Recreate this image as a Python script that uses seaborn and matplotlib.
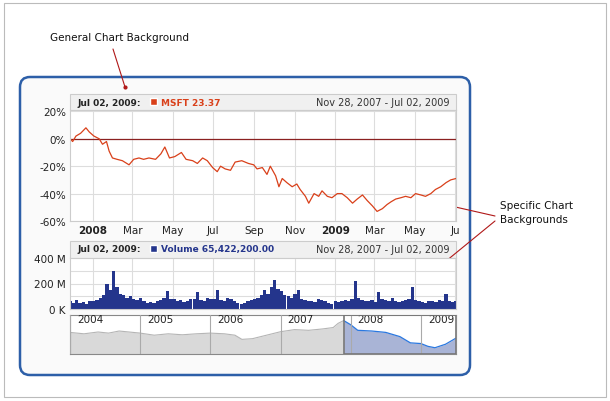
import numpy as np, pandas as pd, matplotlib
matplotlib.use("Agg")
import matplotlib.pyplot as plt, matplotlib.dates as mdates
from matplotlib.patches import FancyBboxPatch, Rectangle
import seaborn as sns
sns.set_style("white")
plt.rcParams['font.family'] = ['DejaVu Sans']

# ---- data ----
start_date = "2007-11-28"
pct_day = [0,4,9,16,24,29,36,44,49,55,59,64,71,79,89,96,104,111,119,129,137,143,150,158,168,175,185,192,200,207,215,222,227,234,242,249,259,269,277,282,290,297,302,310,315,320,327,335,342,347,355,360,368,375,380,388,395,403,410,418,426,433,441,448,456,463,471,478,484,491,499,506,514,521,529,536,544,551,559,567,574,582]
pct_val = [0,-2,2,4,8,5,2,0,-4,-2,-9,-14,-15,-16,-19,-15,-14,-15,-14,-15,-11,-6,-14,-13,-10,-15,-16,-18,-14,-16,-21,-24,-20,-22,-23,-17,-16,-18,-19,-22,-21,-26,-20,-27,-35,-29,-32,-35,-33,-37,-42,-47,-40,-42,-38,-42,-43,-40,-40,-43,-47,-44,-41,-45,-49,-53,-51,-48,-46,-44,-43,-42,-43,-40,-41,-42,-40,-37,-35,-32,-30,-29]
pct_val = pct_val[:len(pct_day)]
volume_m = [60,45,70,50,55,40,65,60,70,90,110,200,150,300,170,120,110,90,100,80,70,85,60,50,55,45,60,70,90,140,80,75,60,70,55,65,80,75,130,70,60,90,80,75,150,70,65,90,80,60,45,40,50,60,70,80,90,110,150,120,170,230,160,140,110,100,90,120,150,80,70,60,65,55,80,70,60,50,40,60,55,60,70,65,80,220,90,70,60,65,70,55,130,80,70,60,90,65,55,60,70,75,170,70,60,55,50,60,65,55,70,60,120,65,55,60]
scroll_year = [2004.0,2004.2,2004.4,2004.55,2004.7,2004.9,2005.0,2005.2,2005.4,2005.6,2005.8,2006.0,2006.2,2006.35,2006.45,2006.6,2006.8,2007.0,2007.2,2007.4,2007.6,2007.75,2007.82,2007.9,2008.0,2008.1,2008.3,2008.5,2008.7,2008.85,2009.0,2009.1,2009.2,2009.35,2009.5]
scroll_price = [27.5,26.5,27.8,27.0,28.5,27.5,27.0,25.5,26.5,25.8,26.5,27.0,26.5,25.5,22.5,23.0,25.5,28.0,29.5,29.0,30.0,31.0,34.0,36.0,33.0,29.0,28.5,27.5,24.5,20.0,19.5,17.5,16.5,19.0,23.4]
y_ticks = [20,0,-20,-40,-60]
x_tick_dates = ["2008-01-01","2008-03-01","2008-05-01","2008-07-01","2008-09-01","2008-11-01","2009-01-01","2009-03-01","2009-05-01","2009-07-01"]
x_tick_labels = ["2008","Mar","May","Jul","Sep","Nov","2009","Mar","May","Ju"]
years = [2004,2005,2006,2007,2008,2009]

W,H = 610,402
fig = plt.figure(figsize=(W/100,H/100), dpi=100)
def px(x0,y0,x1,y1):
    return [x0/W, 1-y1/H, (x1-x0)/W, (y1-y0)/H]

bg = fig.add_axes([0,0,1,1]); bg.set_xlim(0,W); bg.set_ylim(H,0); bg.axis('off')
bg.add_patch(Rectangle((4,4),602,394,fill=False,ec='#bbbbbb',lw=0.8))
bg.add_patch(FancyBboxPatch((20,78),450,298,boxstyle="round,pad=0,rounding_size=10",fc='#fafafa',ec='#2d5fa8',lw=1.8))
bg.add_patch(Rectangle((70,95),386,16,fc='#f0f0f0',ec='#cccccc',lw=0.8))
bg.add_patch(Rectangle((70,242),386,17,fc='#f0f0f0',ec='#cccccc',lw=0.8))
bg.text(50,38,"General Chart Background",fontsize=7.5,va='center',color='#111')
bg.plot([113,125],[50,88],color='#b01818',lw=0.8); bg.plot([125],[88],'o',color='#b01818',ms=2)
bg.text(500,213,"Specific Chart\nBackgrounds",fontsize=7.5,va='center',ha='left',linespacing=1.4,color='#111')
bg.plot([495,451],[217,207],color='#b01818',lw=0.8); bg.plot([451],[207],'o',color='#b01818',ms=2)
bg.plot([495,440],[222,267],color='#b01818',lw=0.8); bg.plot([440],[267],'o',color='#b01818',ms=2)
# headers
bg.text(77,103,"Jul 02, 2009:",fontsize=6.5,fontweight='bold',va='center',color='#222')
bg.add_patch(Rectangle((150,99),7,7,fc='#d9401a'))
bg.text(161,103,"MSFT 23.37",fontsize=6.5,fontweight='bold',va='center',color='#d9401a')
bg.text(449,103,"Nov 28, 2007 - Jul 02, 2009",fontsize=7,va='center',ha='right',color='#333')
bg.text(77,250,"Jul 02, 2009:",fontsize=6.5,fontweight='bold',va='center',color='#222')
bg.add_patch(Rectangle((150,246),7,7,fc='#24358c'))
bg.text(161,250,"Volume 65,422,200.00",fontsize=6.5,fontweight='bold',va='center',color='#24358c')
bg.text(449,250,"Nov 28, 2007 - Jul 02, 2009",fontsize=7,va='center',ha='right',color='#333')

t0 = pd.Timestamp(start_date)
dates = [t0+pd.Timedelta(days=d) for d in pct_day]
xmin, xmax = mdates.date2num(pd.Timestamp("2007-11-28")), mdates.date2num(pd.Timestamp("2009-07-02"))
ticks = mdates.date2num(pd.to_datetime(x_tick_dates))

ax = fig.add_axes(px(70,111,456,222))
df = pd.DataFrame({"d":mdates.date2num(pd.to_datetime(dates)),"v":pct_val})
sns.lineplot(data=df,x="d",y="v",ax=ax,color='#d9401a',lw=0.9)
ax.set_xlim(xmin,xmax); ax.set_ylim(-60,21)
ax.axhline(0,color='#8b2020',lw=0.9,zorder=1)
ax.set_yticks(y_ticks); ax.set_yticklabels([f"{v}%" for v in y_ticks])
ax.set_xticks(ticks); ax.set_xticklabels(x_tick_labels)
for l,t in zip(ax.get_xticklabels(),x_tick_labels):
    if t in ("2008","2009"): l.set_fontweight('bold')
ax.grid(True,color='#dddddd',lw=0.8); ax.set_xlabel(""); ax.set_ylabel("")
ax.tick_params(length=0,labelsize=7.5,colors='#222',pad=3)
for s in ax.spines.values(): s.set_color('#cccccc'); s.set_linewidth(0.8)

av = fig.add_axes(px(70,259,456,310))
n = len(volume_m)
vx = np.linspace(xmin, xmax, n)
av.bar(vx, volume_m, width=(xmax-xmin)/n*1.0, color='#24358c', lw=0)
av.set_xlim(xmin,xmax); av.set_ylim(0,400)
av.set_xticks(ticks); av.set_xticklabels([])
av.set_yticks([0,100,200,300,400]); av.set_yticklabels(["0 K","","200 M","","400 M"])
av.grid(True,color='#dddddd',lw=0.8); av.set_axisbelow(True)
av.tick_params(length=0,labelsize=7.5,colors='#222',pad=3)
for s in av.spines.values(): s.set_color('#cccccc'); s.set_linewidth(0.8)

asc = fig.add_axes(px(70,316,456,355))
sx0, sx1 = 2004.0, 2009.5
sel0 = 2007.91
sy = np.array(scroll_price)
syr = np.array(scroll_year)
asc.set_xlim(sx0,sx1); asc.set_ylim(12,40)
m = syr <= sel0+0.01
asc.fill_between(syr,12,sy,color='#d9d9d9',lw=0)
asc.add_patch(Rectangle((sel0,12),sx1-sel0,28,fc='white',ec='none',zorder=1))
asc.fill_between(syr[syr>=2007.9],12,sy[syr>=2007.9],color='#a9b4d6',lw=0,zorder=2)
sns.lineplot(x=syr[m],y=sy[m],ax=asc,color='#b5b5b5',lw=0.8,zorder=3)
sns.lineplot(x=syr[syr>=2007.9],y=sy[syr>=2007.9],ax=asc,color='#2a78e0',lw=0.9,zorder=3)
for yv in years:
    asc.axvline(yv,color='#aaaaaa',lw=0.8,zorder=4)
    if yv>sx0-0.1: asc.text(yv+0.1,37,str(yv),fontsize=7.5,va='center',color='#222',zorder=5)
asc.add_patch(Rectangle((sel0,12),sx1-sel0,28,fill=False,ec='#777777',lw=1.2,zorder=6))
asc.set_xticks([]); asc.set_yticks([]); asc.set_xlabel(""); asc.set_ylabel("")
for s in asc.spines.values(): s.set_color('#888888'); s.set_linewidth(0.8)

fig.savefig("out.png",dpi=100)
